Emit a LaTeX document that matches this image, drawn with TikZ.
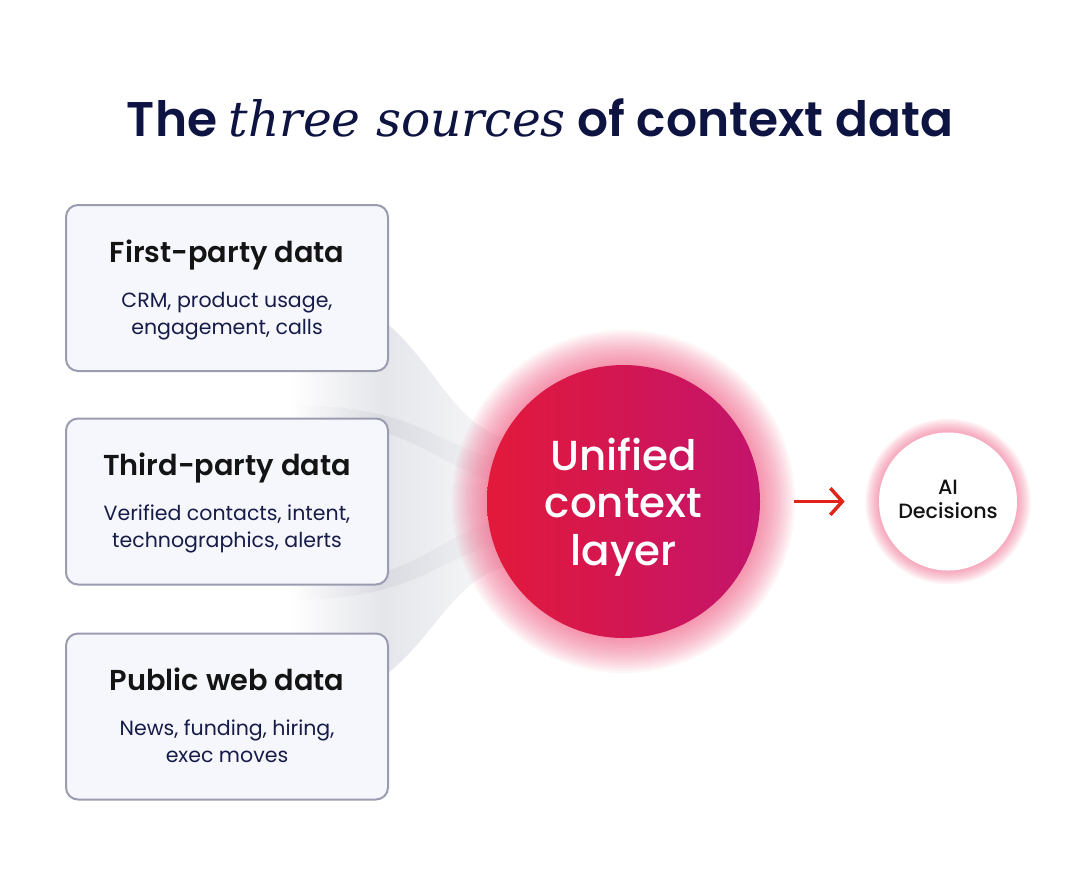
\documentclass[tikz,border=0pt]{standalone}
\usepackage{fontspec}
\setmainfont{Poppins}
\newfontfamily\semibold{Poppins SemiBold}
\newfontfamily\medium{Poppins Medium}
\newfontfamily\serifit{DejaVu Serif}
\usetikzlibrary{arrows.meta}

\definecolor{navy}{HTML}{0E1442}
\definecolor{ink}{HTML}{141414}
\definecolor{subink}{HTML}{161B48}
\definecolor{boxfill}{HTML}{F6F7FC}
\definecolor{boxline}{HTML}{9A9CB0}
\definecolor{ured}{HTML}{E2193A}
\definecolor{umag}{HTML}{C3146C}
\definecolor{glow}{HTML}{EC4470}
\definecolor{band}{HTML}{CFD1D9}
\definecolor{arrowred}{HTML}{E2231A}

\pgfdeclarehorizontalshading{streamfade}{100bp}{color(0bp)=(white); color(25bp)=(white); color(45bp)=(band); color(75bp)=(band!15); color(100bp)=(band!15)}

\tikzset{every picture/.style={line width=1.5pt},
  srcbox/.style={draw=boxline, fill=boxfill, rounded corners=9pt, minimum width=241.5pt, minimum height=124.5pt, inner sep=0pt},
  srctitle/.style={anchor=base, inner sep=0.75pt, text=ink, font=\semibold\fontsize{21.6}{26}\selectfont},
  srctext/.style={anchor=base, inner sep=0.75pt, text=subink, align=center, font=\fontsize{15.4}{20.25}\selectfont},
  hub/.style={circle, minimum size=204.75pt, inner sep=0pt, left color=ured, right color=umag},
  hubtext/.style={anchor=base, inner sep=0.75pt, text=white, align=center, font=\medium\fontsize{31.5}{35.6}\selectfont},
  goal/.style={circle, minimum size=103.5pt, inner sep=0pt, fill=white},
  goaltext/.style={anchor=base, inner sep=0.75pt, text=ink, align=center, font=\medium\fontsize{15.5}{18}\selectfont},
  flow/.style={draw=arrowred, line width=2.6pt, -{Straight Barb[length=9pt,width=20pt]}, shorten <=25pt, shorten >=25pt},
  stream/.style={shading=streamfade, fill opacity=0.55, draw=none}
}

\begin{document}
\begin{tikzpicture}[x=0.75pt,y=0.75pt,yscale=-1,xscale=1]
    \useasboundingbox (0,0) rectangle (1080,883);

    %Shape: streams behind the boxes
    \shade[stream] (290,290) .. controls (430,290) and (430,435) .. (520,440) -- (520,485) .. controls (440,480) and (430,420) .. (290,420) -- cycle ;
    \shade[stream] (290,405) .. controls (430,405) and (440,455) .. (520,462) -- (520,542) .. controls (440,548) and (430,600) .. (290,600) -- cycle ;
    \shade[stream] (290,585) .. controls (430,585) and (440,522) .. (520,518) -- (520,565) .. controls (430,570) and (430,705) .. (290,705) -- cycle ;

    %Shape: glow round the circles
    \foreach \i in {1,...,14}
      \fill[glow, opacity=0.055] (623.5,501.5) circle [radius=136.5+2.5*\i] ;
    \foreach \i in {1,...,8}
      \fill[glow, opacity=0.07] (948,501.5) circle [radius=69+1.7*\i] ;

    %Shape: source boxes
    \node[srcbox] (first) at (227,288) {};
    \node[srcbox] (third) at (227,501.5) {};
    \node[srcbox] (public) at (227,716.5) {};

    % Text Node
    \node[anchor=base, inner sep=0.75pt, text=navy, font=\semibold\fontsize{36.5}{40}\selectfont] (heading) at (540,136) {The {\serifit\itshape three sources} of context data};
    % Text Node
    \node[srctitle] (firstT) at (227,262) {First-party data};
    \node[srctext] (firstS) at (227,334) {CRM, product usage,\\engagement, calls};
    % Text Node
    \node[srctitle] (thirdT) at (227,475) {Third-party data};
    \node[srctext] (thirdS) at (227,547) {Verified contacts, intent,\\technographics, alerts};
    % Text Node
    \node[srctitle] (publicT) at (227,690) {Public web data};
    \node[srctext] (publicS) at (227,762) {News, funding, hiring,\\exec moves};

    %Shape: circles
    \node[hub] (layer) at (623.5,501.5) {};
    \node[goal] (ai) at (948,501.5) {};
    % Text Node
    \node[hubtext] (layerT) at (623.5,565) {Unified\\context\\layer};
    \node[goaltext] (aiT) at (948,518) {AI\\Decisions};

    %Straight Lines
    \draw[flow] (layer) -- (ai) ;

\end{tikzpicture}
\end{document}
